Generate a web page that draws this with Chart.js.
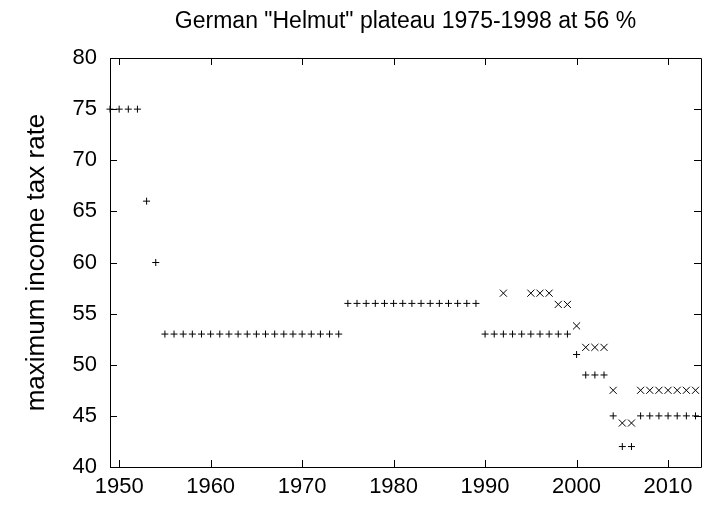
<!DOCTYPE html>
<html>
<head>
<meta charset="utf-8">
<script src="https://cdn.jsdelivr.net/npm/chart.js@4"></script>
<style>
  html, body { margin: 0; padding: 0; background: #fff; }
  #wrap { width: 707px; height: 508px; }
</style>
</head>
<body>
<div id="wrap"><canvas id="taxChart" width="707" height="508"></canvas></div>
<script>
// top income tax rate (+)
const rateYears = [1949, 1950, 1951, 1952, 1953, 1954,
  1955, 1956, 1957, 1958, 1959, 1960, 1961, 1962, 1963, 1964,
  1965, 1966, 1967, 1968, 1969, 1970, 1971, 1972, 1973, 1974,
  1975, 1976, 1977, 1978, 1979, 1980, 1981, 1982, 1983, 1984,
  1985, 1986, 1987, 1988, 1989,
  1990, 1991, 1992, 1993, 1994, 1995, 1996, 1997, 1998, 1999,
  2000, 2001, 2002, 2003, 2004, 2005, 2006,
  2007, 2008, 2009, 2010, 2011, 2012, 2013];
const rateValues = [75, 75, 75, 75, 66, 60,
  53, 53, 53, 53, 53, 53, 53, 53, 53, 53,
  53, 53, 53, 53, 53, 53, 53, 53, 53, 53,
  56, 56, 56, 56, 56, 56, 56, 56, 56, 56,
  56, 56, 56, 56, 56,
  53, 53, 53, 53, 53, 53, 53, 53, 53, 53,
  51, 49, 49, 49, 45, 42, 42,
  45, 45, 45, 45, 45, 45, 45];

// rate including solidarity surcharge (x)
const soliYears = [1992, 1995, 1996, 1997, 1998, 1999, 2000,
  2001, 2002, 2003, 2004, 2005, 2006,
  2007, 2008, 2009, 2010, 2011, 2012, 2013];
const soliValues = [57, 57, 57, 57, 55.9, 55.9, 53.8,
  51.7, 51.7, 51.7, 47.5, 44.3, 44.3,
  47.5, 47.5, 47.5, 47.5, 47.5, 47.5, 47.5];

const xTicks = [1950, 1960, 1970, 1980, 1990, 2000, 2010];
const yTicks = [40, 45, 50, 55, 60, 65, 70, 75, 80];

const fontFamily = '"Liberation Sans", Arial, sans-serif';

const toPoints = (xs, ys) => xs.map((x, i) => ({ x: x, y: ys[i] }));

// gnuplot style frame with inward ticks on all four sides
const framePlugin = {
  id: 'frame',
  beforeDatasetsDraw(chart) {
    const { ctx, chartArea: a, scales } = chart;
    const len = 7;
    ctx.save();
    ctx.strokeStyle = '#000';
    ctx.lineWidth = 1;
    ctx.beginPath();
    ctx.rect(a.left + 0.5, a.top + 0.5, a.right - a.left, a.bottom - a.top);
    xTicks.forEach(v => {
      const px = Math.round(scales.x.getPixelForValue(v)) + 0.5;
      ctx.moveTo(px, a.bottom); ctx.lineTo(px, a.bottom - len);
      ctx.moveTo(px, a.top); ctx.lineTo(px, a.top + len);
    });
    yTicks.forEach(v => {
      const py = Math.round(scales.y.getPixelForValue(v)) + 0.5;
      ctx.moveTo(a.left, py); ctx.lineTo(a.left + len, py);
      ctx.moveTo(a.right, py); ctx.lineTo(a.right - len, py);
    });
    ctx.stroke();
    ctx.restore();
  }
};

new Chart(document.getElementById('taxChart'), {
  type: 'scatter',
  data: {
    datasets: [{
      label: 'top rate',
      data: toPoints(rateYears, rateValues),
      pointStyle: 'cross',
      pointRadius: 3.5,
      borderColor: '#000',
      backgroundColor: '#000',
      borderWidth: 1,
      clip: false
    }, {
      label: 'with surcharge',
      data: toPoints(soliYears, soliValues),
      pointStyle: 'crossRot',
      pointRadius: 5,
      borderColor: '#000',
      backgroundColor: '#000',
      borderWidth: 1,
      clip: false
    }]
  },
  options: {
    responsive: false,
    animation: false,
    layout: { padding: { left: 0, right: 1, top: 0, bottom: 0 } },
    plugins: {
      legend: { display: false },
      tooltip: { enabled: false },
      title: {
        display: true,
        fullSize: false,
        text: 'German "Helmut" plateau 1975-1998 at 56 %',
        color: '#000',
        font: { family: fontFamily, size: 23, weight: 'normal' },
        padding: { top: 8.2, bottom: 22.2 }
      }
    },
    scales: {
      x: {
        type: 'linear',
        min: 1949,
        max: 2013.6,
        afterBuildTicks: s => { s.ticks = xTicks.map(v => ({ value: v })); },
        afterFit: s => { s.height = 41; },
        grid: { display: false, drawTicks: false },
        border: { display: false },
        ticks: {
          color: '#000',
          padding: 7,
          maxRotation: 0,
          callback: v => String(v),
          font: { family: fontFamily, size: 22 }
        }
      },
      y: {
        min: 40,
        max: 80,
        afterBuildTicks: s => { s.ticks = yTicks.map(v => ({ value: v })); },
        afterFit: s => { s.width = 110; },
        grid: { display: false, drawTicks: false },
        border: { display: false },
        ticks: {
          color: '#000',
          padding: 13,
          font: { family: fontFamily, size: 22 }
        },
        title: {
          display: true,
          text: 'maximum income tax rate',
          color: '#000',
          padding: { top: 21, bottom: 0 },
          font: { family: fontFamily, size: 26 }
        }
      }
    }
  },
  plugins: [framePlugin]
});
</script>
</body>
</html>
